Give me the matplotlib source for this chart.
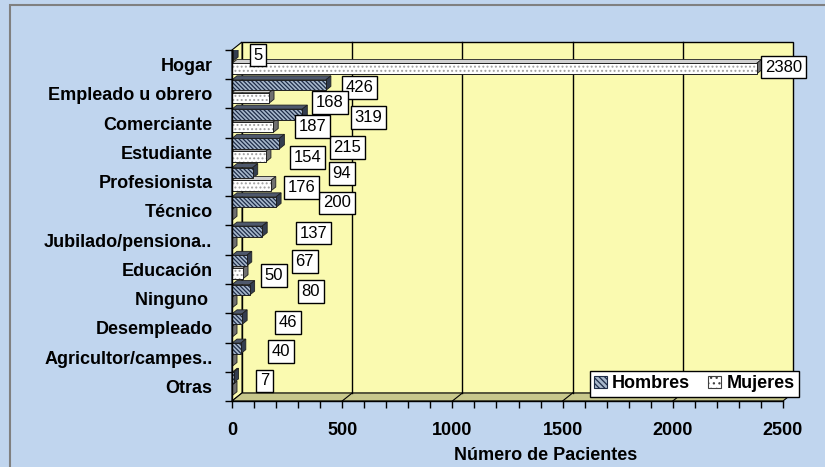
import numpy as np
import matplotlib
matplotlib.use("Agg")
import matplotlib.pyplot as plt
from matplotlib.patches import Rectangle, Polygon, Patch

plt.rcParams["font.family"] = ["Liberation Sans", "DejaVu Sans"]
plt.rcParams["hatch.linewidth"] = 0.9

# -------------------------------------------------
# Data
# -------------------------------------------------
categorias = ["Hogar", "Empleado u obrero", "Comerciante", "Estudiante",
              "Profesionista", "Técnico", "Jubilado/pensiona..", "Educación",
              "Ninguno ", "Desempleado", "Agricultor/campes..", "Otras"]
hombres = [5, 426, 319, 215, 94, 200, 137, 67, 80, 46, 40, 7]
mujeres = [2380, 168, 187, 154, 176, 0, 0, 50, 0, 0, 0, 0]

# label offsets in pixels (dx from bar end, dy below category centre)
off_h = [(25, -9.5), (34, -6.5), (66, -5.5), (68, -5), (89, -8), (61, -8),
         (51, -7), (58, -8), (61, -7), (46, -5.5), (40, -5.5), (31, -5.5)]
off_m = [(27, 2.5), (61, 8.5), (39, 3.5), (42, 5), (31, 6), None,
         None, (31, 6), None, None, None, None]

BG = "#C0D5EE"
WALL = "#FAFAB0"
FLOOR = "#C8C88C"
H_FACE, H_HATCH = "#A8B8CC", "#1E2C48"

W, H = 825, 467
fig = plt.figure(figsize=(W / 100, H / 100), dpi=100, facecolor=BG)

# outer chart border (left/top visible)
fig.patches.append(Rectangle((10 / W, -0.1), 1.2, (H - 5) / H + 0.1,
                             transform=fig.transFigure, fill=False,
                             ec="#808080", lw=1.5))

ax_l, ax_b, ax_w, ax_h = 232, 66, 551, 351
ax = fig.add_axes([ax_l / W, ax_b / H, ax_w / W, ax_h / H])
ax.patch.set_visible(False)
n = len(categorias)
xmax = 2500
ax.set_xlim(0, xmax)
ax.set_ylim(n - 0.5, -0.5)

# depth of 3D walls in pixels
DX, DY = 10, 8
dxf, dyf = DX / ax_w, DY / ax_h

# back wall, left wall, floor
ax.add_patch(Rectangle((dxf, dyf), 1, 1, transform=ax.transAxes, fc=WALL,
                       ec="black", lw=1, zorder=0, clip_on=False))
ax.add_patch(Polygon([(0, 0), (dxf, dyf), (dxf, 1 + dyf), (0, 1)],
                     transform=ax.transAxes, fc=WALL, ec="black", lw=0.8,
                     zorder=0.1, clip_on=False))
ax.add_patch(Polygon([(0, 0), (1, 0), (1 + dxf, dyf), (dxf, dyf)],
                     transform=ax.transAxes, fc=FLOOR, ec="black", lw=0.8,
                     zorder=0.1, clip_on=False))

# gridlines on back wall
for v in [500, 1000, 1500, 2000]:
    xf = v / xmax
    ax.plot([xf + dxf, xf + dxf], [dyf, 1 + dyf], color="black", lw=1,
            transform=ax.transAxes, zorder=0.2, clip_on=False)
    ax.plot([xf, xf + dxf], [0, dyf], color="black", lw=0.8,
            transform=ax.transAxes, zorder=0.2, clip_on=False)

# -------------------------------------------------
# Bars (pseudo 3D)
# -------------------------------------------------
ux = xmax / ax_w          # data units per pixel (x)
uy = n / ax_h             # data units per pixel (y)
bdx, bdy = 5 * ux, 4 * uy
y = np.arange(n)
bh = 0.36
yh = y - 0.3
ym = y + 0.14


def bars(ypos, vals, face, hatch, hcol, top, side):
    ax.barh(ypos, vals, height=bh, color=face, hatch=hatch, edgecolor=hcol,
            lw=0, zorder=2)
    ax.barh(ypos, vals, height=bh, fill=False, edgecolor="#202020", lw=0.7,
            zorder=2.1)
    for yc, v in zip(ypos, vals):
        t = yc - bh / 2
        b = yc + bh / 2
        ax.add_patch(Polygon([(0, t), (v, t), (v + bdx, t - bdy), (bdx, t - bdy)],
                             fc=top, ec="#202020", lw=0.6, zorder=1.9))
        ax.add_patch(Polygon([(v, b), (v, t), (v + bdx, t - bdy), (v + bdx, b - bdy)],
                             fc=side, ec="#202020", lw=0.6, zorder=1.9))


bars(yh, hombres, H_FACE, "\\" * 8, H_HATCH, "#4E586C", "#333D50")
bars(ym, mujeres, "white", "....", "#A0A0A0", "#D0D0D0", "#707070")

# data labels
box = dict(boxstyle="square,pad=0.22", fc="white", ec="black", lw=1)
for vals, ypos, offs in [(hombres, y, off_h), (mujeres, y, off_m)]:
    for yc, v, o in zip(ypos, vals, offs):
        if o is None:
            continue
        ax.annotate(str(v), xy=(v, yc), xytext=(o[0], -o[1]),
                    textcoords="offset pixels", ha="center", va="center",
                    fontsize=12, bbox=box, zorder=5, annotation_clip=False)

# -------------------------------------------------
# Axes
# -------------------------------------------------
for s in ["top", "right"]:
    ax.spines[s].set_visible(False)
for s in ["left", "bottom"]:
    ax.spines[s].set_linewidth(1)
    ax.spines[s].set_zorder(3)

ax.set_yticks(y)
ax.set_yticklabels(categorias, fontsize=13, fontweight="bold")
ax.set_yticks(np.arange(-0.5, n, 1), minor=True)
ax.tick_params(axis="y", which="major", length=0, pad=14)
ax.tick_params(axis="y", which="minor", length=5, width=1)

ax.set_xticks(np.arange(0, xmax + 1, 500))
ax.set_xticklabels([str(v) for v in range(0, xmax + 1, 500)],
                   fontsize=13, fontweight="bold")
ax.set_xticks(np.arange(0, xmax + 1, 100), minor=True)
ax.tick_params(axis="x", which="both", length=5, width=1, pad=10)

fig.text(546 / W, 1 - 456 / H, "Número de Pacientes", ha="center",
         va="center", fontsize=13, fontweight="bold")

# legend
handles = [Patch(fc=H_FACE, hatch="\\" * 6, ec=H_HATCH, lw=0.8),
           Patch(fc="white", hatch="...", ec="#404040", lw=0.8)]
leg = ax.legend(handles, ["Hombres", "Mujeres"], loc="lower right",
                bbox_to_anchor=(799 / W, 1 - 397 / H),
                bbox_transform=fig.transFigure, ncol=2, fancybox=False,
                framealpha=1, edgecolor="black", borderaxespad=0,
                prop=dict(weight="bold", size=13), handlelength=0.7,
                handleheight=0.7, handletextpad=0.3, columnspacing=1.0,
                borderpad=0.25)
leg.get_frame().set_linewidth(1)
leg.set_zorder(6)

fig.savefig("out.png", dpi=100, facecolor=BG)
